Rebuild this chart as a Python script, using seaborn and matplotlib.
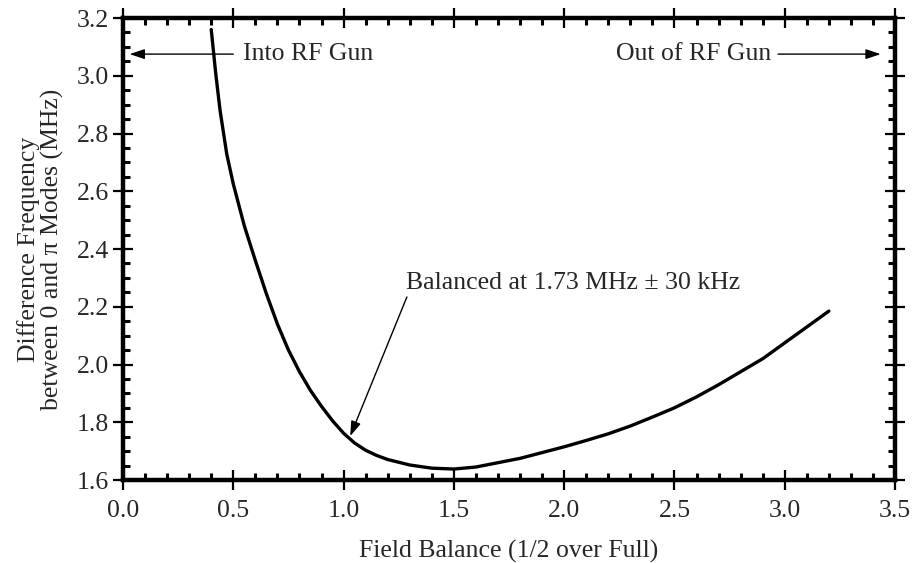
import numpy as np
import pandas as pd
import matplotlib
matplotlib.use("Agg")
import matplotlib.pyplot as plt
from matplotlib.ticker import MultipleLocator
import seaborn as sns

# Data
field_balance = [0.40, 0.42, 0.44, 0.47, 0.50, 0.55, 0.60, 0.65, 0.70, 0.75,
                 0.80, 0.85, 0.90, 0.95, 1.00, 1.05, 1.10, 1.15, 1.20, 1.30,
                 1.40, 1.50, 1.60, 1.70, 1.80, 1.90, 2.00, 2.10, 2.20, 2.30,
                 2.40, 2.50, 2.60, 2.70, 2.80, 2.90, 3.00, 3.10, 3.20]
freq_diff = [3.16, 3.01, 2.88, 2.73, 2.625, 2.48, 2.36, 2.245, 2.14, 2.05,
             1.975, 1.91, 1.855, 1.805, 1.762, 1.728, 1.703, 1.685, 1.671, 1.652,
             1.641, 1.638, 1.645, 1.66, 1.675, 1.695, 1.715, 1.737, 1.76, 1.787,
             1.818, 1.85, 1.888, 1.93, 1.975, 2.02, 2.075, 2.13, 2.185]

x_ticks = [0.0, 0.5, 1.0, 1.5, 2.0, 2.5, 3.0, 3.5]
y_ticks = [1.6, 1.8, 2.0, 2.2, 2.4, 2.6, 2.8, 3.0, 3.2]

df = pd.DataFrame({"x": field_balance, "y": freq_diff})

sns.set_style("ticks")
plt.rcParams["font.family"] = ["Liberation Serif", "DejaVu Serif"]

FS = 18.5

fig = plt.figure(figsize=(9.18, 5.63), dpi=100)
ax = fig.add_axes([0.134, 0.1474, 0.841, 0.8206])

sns.lineplot(data=df, x="x", y="y", ax=ax, color="black", linewidth=2.4,
             sort=False, estimator=None)

ax.set_xlim(0, 3.5)
ax.set_ylim(1.6, 3.2)
ax.set_xticks(x_ticks)
ax.set_yticks(y_ticks)
ax.set_xticklabels([f"{v:.1f}" for v in x_ticks])
ax.set_yticklabels([f"{v:.1f}" for v in y_ticks])
ax.xaxis.set_minor_locator(MultipleLocator(0.1))
ax.yaxis.set_minor_locator(MultipleLocator(0.05))

for s in ax.spines.values():
    s.set_visible(True)
    s.set_linewidth(3.2)
    s.set_color("black")

ax.tick_params(which="major", direction="inout", length=14, width=1.6,
               top=True, right=True, labelsize=FS, color="black")
ax.tick_params(axis="x", which="major", pad=7.5)
ax.tick_params(axis="y", which="major", pad=3)
ax.tick_params(which="minor", direction="in", length=5, width=2.2,
               top=True, right=True, color="black")

ax.set_xlabel("Field Balance (1/2 over Full)", fontsize=FS)
ax.xaxis.set_label_coords(0.5, -0.129)
ax.set_ylabel("Difference Frequency\nbetween 0 and π Modes (MHz)",
              fontsize=FS, linespacing=1.0)
ax.yaxis.set_label_coords(-0.077, 0.5)

arrow_kw = dict(arrowstyle="-|>,head_length=0.9,head_width=0.3",
                color="black", lw=1.0, shrinkA=0, shrinkB=0)

# Annotations
ax.annotate("", xy=(0.03, 3.075), xytext=(0.50, 3.075), arrowprops=arrow_kw)
ax.text(0.545, 3.075, "Into RF Gun", fontsize=FS, va="center", ha="left")

ax.text(2.937, 3.075, "Out of RF Gun", fontsize=FS, va="center", ha="right")
ax.annotate("", xy=(3.435, 3.075), xytext=(2.97, 3.075), arrowprops=arrow_kw)

ax.text(1.283, 2.282, "Balanced at 1.73 MHz ± 30 kHz", fontsize=FS,
        va="center", ha="left")
ax.annotate("", xy=(1.03, 1.752), xytext=(1.287, 2.234), arrowprops=arrow_kw)

fig.savefig("out.png", dpi=100)
